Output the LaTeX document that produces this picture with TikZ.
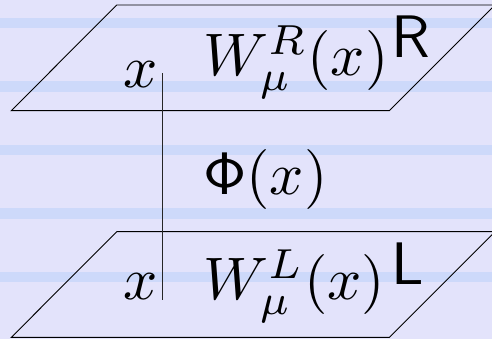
\documentclass[tikz,border=0pt]{standalone}
\definecolor{bgcol}{RGB}{227,227,251}
\definecolor{stripecol}{RGB}{205,217,250}
\tikzset{
  lbl/.style={inner sep=0pt, scale=6},
  plane/.style={draw=black, line width=0.9pt, line join=miter},
  stalk/.style={draw=black!85, line width=0.9pt}
}
\begin{document}
\begin{tikzpicture}[x=1pt,y=1pt]
\useasboundingbox (0,0) rectangle (492,339);
\clip (0,0) rectangle (492,339);
\fill[bgcol] (0,0) rectangle (492,339);
\foreach \c in {23,86.5,150,213.5,277}{
  \fill[stripecol] (0,{339-\c-5.3}) rectangle (492,{339-\c+5.3});
}
% upper plane
\draw[plane] (11.3,228.3) -- (389.3,228.3) -- (495,334) -- (116.7,334) -- cycle;
% lower plane
\draw[plane] (11.3,1.6) -- (389.3,1.6) -- (495,107.3) -- (116.7,107.3) -- cycle;
% vertical line
\coordinate (top) at (162.7,265.7);
\coordinate (bot) at (162.7,39);
\draw[stalk] (top) -- (bot);
% labels
\node[lbl, anchor=base] (xu) at (141,251) {$x$};
\node[lbl, anchor=base west] (wr) at (202,263) {$W_\mu^R(x)$};
\node[lbl, anchor=base west] (rr) at (390,281) {\textsf{R}};
\node[lbl, anchor=base west] (phi) at (202,144) {$\mathsf{\Phi}(x)$};
\node[lbl, anchor=base] (xl) at (141,39) {$x$};
\node[lbl, anchor=base west] (wl) at (202,39) {$W_\mu^L(x)$};
\node[lbl, anchor=base west] (ll) at (390,54) {\textsf{L}};
\end{tikzpicture}
\end{document}
